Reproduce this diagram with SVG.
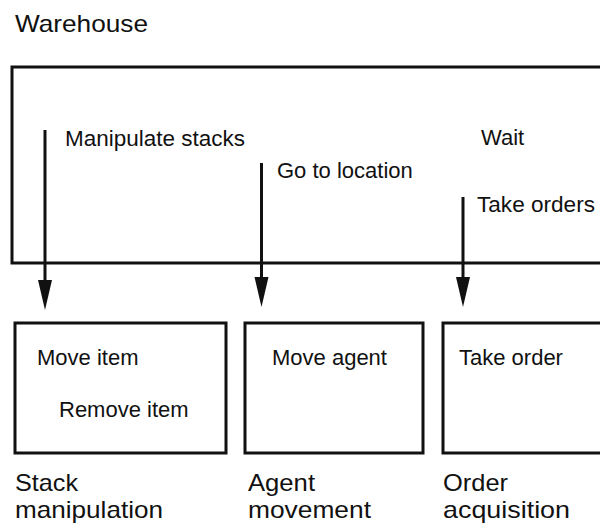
<svg xmlns="http://www.w3.org/2000/svg" width="600" height="526" viewBox="0 0 600 526">
<defs>
<style>
text{font-family:"Liberation Sans",Arial,sans-serif;fill:#111}
.t{font-size:22px}
.b{font-size:24px}
.box{fill:none;stroke:#111;stroke-width:3}
.conn{stroke:#111;stroke-width:3;fill:none}
</style>
<marker id="ah" markerUnits="userSpaceOnUse" viewBox="0 -8 31 16" markerWidth="31" markerHeight="16" refX="10" refY="0" orient="auto">
<path d="M0,-7 L30,0 L0,7 z" fill="#111"/>
</marker>
</defs>
<rect width="600" height="526" fill="#fff"/>
<g id="warehouse">
<text x="15" y="32" style="font-size:24px" textLength="133" lengthAdjust="spacingAndGlyphs">Warehouse</text>
<rect class="box" x="12" y="67" width="600" height="196"/>
<text class="t" x="65" y="146" textLength="180" lengthAdjust="spacingAndGlyphs">Manipulate stacks</text>
<text class="t" x="277" y="178">Go to location</text>
<text class="t" x="481" y="145">Wait</text>
<text class="t" x="477" y="212" textLength="118" lengthAdjust="spacingAndGlyphs">Take orders</text>
</g>
<g id="stack">
<rect class="box" x="15" y="323" width="211" height="130"/>
<text class="t" x="37" y="365">Move item</text>
<text class="t" x="59" y="417">Remove item</text>
<text class="b" x="15" y="491" textLength="63" lengthAdjust="spacingAndGlyphs">Stack</text>
<text class="b" x="15" y="518" textLength="148" lengthAdjust="spacingAndGlyphs">manipulation</text>
</g>
<g id="agent">
<rect class="box" x="245" y="323" width="178" height="130"/>
<text class="t" x="272" y="365">Move agent</text>
<text class="b" x="248" y="491" textLength="67" lengthAdjust="spacingAndGlyphs">Agent</text>
<text class="b" x="248" y="518" textLength="123" lengthAdjust="spacingAndGlyphs">movement</text>
</g>
<g id="order">
<rect class="box" x="443" y="323" width="170" height="130"/>
<text class="t" x="459" y="365">Take order</text>
<text class="b" x="443" y="491" textLength="65" lengthAdjust="spacingAndGlyphs">Order</text>
<text class="b" x="443" y="518" textLength="127" lengthAdjust="spacingAndGlyphs">acquisition</text>
</g>
<g id="connectors">
<line class="conn" x1="45" y1="130" x2="45" y2="290" marker-end="url(#ah)"/>
<line class="conn" x1="261.5" y1="163" x2="261.5" y2="287" marker-end="url(#ah)"/>
<line class="conn" x1="463" y1="197" x2="463" y2="287" marker-end="url(#ah)"/>
</g>
</svg>
